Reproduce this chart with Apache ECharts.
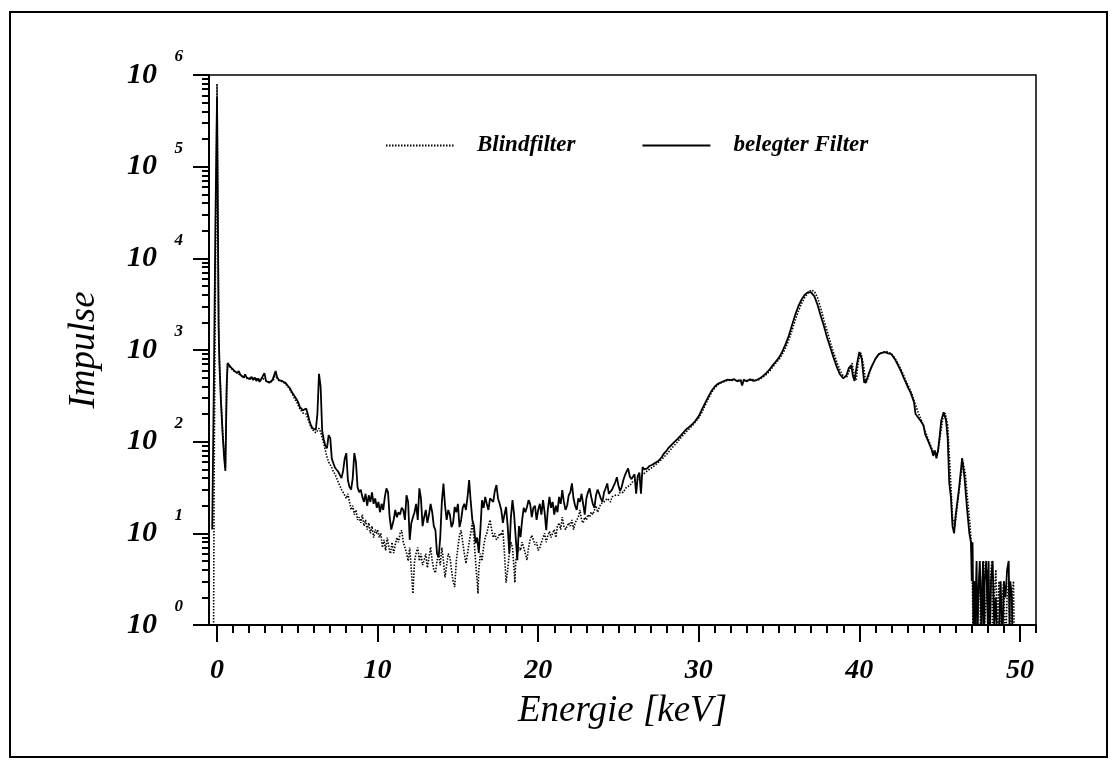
<!DOCTYPE html>
<html>
<head>
<meta charset="utf-8">
<title>Impulse / Energie</title>
<script src="https://cdn.jsdelivr.net/npm/echarts@6/dist/echarts.min.js"></script>
<style>
  html, body { margin: 0; padding: 0; background: #fff; }
  #wrap { position: relative; width: 1118px; height: 768px; }
  #chart { position: absolute; left: 0; top: 0; width: 1118px; height: 768px; }
  #frame { position: absolute; left: 9px; top: 11px; width: 1099px; height: 747px;
           border: 2px solid #000; box-sizing: border-box; pointer-events: none; }
</style>
</head>
<body>
<div id="wrap">
  <div id="chart"></div>
  <div id="frame"></div>
</div>
<script>
// Spectra as [energy in keV, counts] pairs.

// belegter Filter, low-energy part
const belegtLow = [
  [-0.3, 11], [-0.2, 400], [-0.1, 25000], [0, 570000], [0.1, 1700], [0.15, 700], [0.25, 260],
  [0.35, 120], [0.45, 65], [0.52, 48], [0.6, 400], [0.66, 720], [0.75, 690], [0.85, 650],
  [0.95, 630], [1.05, 600], [1.15, 580], [1.25, 560], [1.35, 590], [1.45, 540], [1.55, 520],
  [1.65, 500], [1.75, 540], [1.85, 500], [1.95, 520], [2.05, 480], [2.15, 510], [2.25, 470],
  [2.35, 500], [2.45, 460], [2.55, 490], [2.65, 450], [2.75, 480], [2.85, 520], [2.95, 560],
  [3.05, 460], [3.15, 470], [3.25, 440], [3.35, 460], [3.45, 470], [3.55, 480], [3.65, 590],
  [3.75, 500], [3.85, 470], [3.95, 480], [4.05, 460], [4.15, 450], [4.25, 440], [4.35, 420],
  [4.45, 400], [4.55, 380], [4.65, 350], [4.75, 330], [4.85, 310], [4.95, 290], [5.05, 270],
  [5.15, 240], [5.25, 250], [5.35, 220], [5.45, 210], [5.55, 230], [5.65, 200], [5.75, 170],
  [5.85, 150], [5.95, 140], [6.05, 140], [6.15, 135], [6.25, 200], [6.35, 550], [6.45, 400],
  [6.55, 130], [6.65, 105], [6.75, 90], [6.85, 85], [6.95, 118], [7.05, 110], [7.15, 65],
  [7.25, 58], [7.35, 52], [7.45, 50], [7.55, 47], [7.65, 45], [7.75, 40], [7.85, 48],
  [7.95, 65], [8.05, 75], [8.15, 38], [8.25, 32], [8.35, 30], [8.45, 40], [8.55, 75],
  [8.65, 60], [8.75, 32], [8.85, 28], [8.95, 30], [9.05, 25], [9.15, 22], [9.25, 27],
  [9.35, 20], [9.45, 26], [9.55, 22], [9.65, 28], [9.75, 21], [9.85, 24], [9.95, 19],
  [10.05, 22], [10.15, 17], [10.25, 21], [10.35, 18], [10.45, 25], [10.55, 31], [10.65, 28],
  [10.75, 15], [10.85, 11]
];

// belegter Filter, 10.9 – 29 keV
const belegtMid = [
  [10.9, 11], [11.0, 14], [11.1, 18], [11.2, 15], [11.3, 17], [11.4, 16], [11.5, 19],
  [11.6, 18], [11.7, 14], [11.8, 26], [11.9, 22], [12.0, 8.5], [12.1, 13], [12.2, 15],
  [12.3, 17], [12.4, 21], [12.5, 14], [12.6, 31], [12.7, 24], [12.8, 12], [12.9, 15],
  [13.0, 18], [13.1, 13], [13.2, 16], [13.3, 21], [13.4, 17], [13.5, 12], [13.6, 10.8],
  [13.7, 6], [13.8, 5.5], [13.9, 9], [14.0, 22], [14.1, 35], [14.2, 20], [14.3, 14],
  [14.4, 18], [14.5, 16], [14.6, 11.7], [14.7, 13], [14.8, 19.4], [14.9, 17], [15.0, 21],
  [15.1, 11.7], [15.2, 14], [15.3, 19], [15.4, 21], [15.5, 18], [15.6, 25], [15.7, 38],
  [15.8, 22], [15.9, 14], [16.0, 12], [16.1, 7.8], [16.2, 9], [16.3, 6.1], [16.4, 11],
  [16.5, 23], [16.6, 19], [16.7, 25], [16.8, 21], [16.9, 18], [17.0, 24], [17.1, 25],
  [17.2, 22], [17.3, 29], [17.4, 33.6], [17.5, 24], [17.6, 21], [17.7, 18], [17.8, 13],
  [17.9, 16], [18.0, 19.4], [18.1, 12], [18.2, 6.1], [18.3, 15], [18.4, 23], [18.5, 16],
  [18.6, 9], [18.7, 5.1], [18.8, 12], [18.9, 9.1], [19.0, 14], [19.1, 19], [19.2, 17],
  [19.3, 19.4], [19.4, 23], [19.5, 21], [19.6, 15], [19.7, 19], [19.8, 20], [19.9, 14],
  [20.0, 18], [20.1, 21], [20.2, 16], [20.3, 23], [20.4, 17], [20.5, 10.8], [20.6, 18],
  [20.7, 25], [20.8, 19], [20.9, 22], [21.0, 16], [21.1, 20], [21.2, 17], [21.3, 25],
  [21.4, 21], [21.5, 29.6], [21.6, 22], [21.7, 18], [21.8, 20], [21.9, 26], [22.0, 28],
  [22.1, 35], [22.2, 24], [22.3, 20], [22.4, 18], [22.5, 24], [22.6, 22], [22.7, 27],
  [22.8, 21], [22.9, 16], [23.0, 24], [23.1, 28], [23.2, 31], [23.3, 25], [23.4, 21],
  [23.5, 19], [23.6, 26], [23.7, 30], [23.8, 27], [23.9, 24], [24.0, 22], [24.1, 28],
  [24.2, 31], [24.3, 35], [24.4, 27], [24.5, 26], [24.6, 30], [24.7, 33], [24.8, 36],
  [24.9, 41], [25.0, 33], [25.1, 29], [25.2, 32], [25.3, 38], [25.4, 43], [25.5, 47],
  [25.6, 51], [25.7, 42], [25.8, 39], [25.9, 40], [26.0, 44], [26.1, 27], [26.2, 42],
  [26.3, 46], [26.4, 27], [26.5, 53], [26.6, 50], [26.7, 48], [26.8, 51], [26.9, 54],
  [27.0, 52], [27.1, 56], [27.2, 55], [27.3, 59], [27.4, 58], [27.5, 62], [27.6, 65],
  [27.7, 68], [27.8, 73], [27.9, 75], [28.0, 80], [28.1, 85], [28.2, 88], [28.3, 92],
  [28.4, 95], [28.5, 100], [28.6, 104], [28.7, 108], [28.8, 112], [28.9, 118], [29.0, 124]
];

// belegter Filter, 29 – 50 keV
const belegtHigh = [
  [29.2, 135], [29.4, 145], [29.6, 155], [29.8, 170], [30.0, 190], [30.2, 225], [30.4, 265],
  [30.6, 310], [30.8, 360], [31.0, 400], [31.2, 430], [31.4, 445], [31.6, 460], [31.8, 475],
  [32.0, 470], [32.2, 480], [32.4, 455], [32.6, 470], [32.7, 410], [32.8, 470], [33.0, 455],
  [33.2, 480], [33.4, 460], [33.6, 470], [33.8, 490], [34.0, 520], [34.2, 560], [34.4, 610],
  [34.6, 680], [34.8, 750], [35.0, 830], [35.2, 960], [35.4, 1150], [35.6, 1420], [35.8, 1850],
  [36.0, 2400], [36.2, 3000], [36.4, 3550], [36.6, 4000], [36.8, 4280], [37.0, 4250],
  [37.2, 3850], [37.4, 3100], [37.6, 2350], [37.8, 1800], [38.0, 1350], [38.2, 1050],
  [38.4, 820], [38.6, 650], [38.8, 540], [39.0, 490], [39.2, 530], [39.35, 640], [39.5, 680],
  [39.6, 520], [39.7, 460], [39.85, 700], [40.0, 950], [40.15, 800], [40.3, 440], [40.45, 470],
  [40.6, 560], [40.8, 680], [41.0, 800], [41.2, 900], [41.4, 930], [41.6, 950], [41.8, 920],
  [42.0, 900], [42.2, 800], [42.4, 690], [42.6, 580], [42.8, 480], [43.0, 400], [43.2, 340],
  [43.4, 270], [43.5, 200], [43.6, 210], [43.8, 170], [44.0, 150], [44.1, 120], [44.3, 100],
  [44.5, 82], [44.6, 70], [44.7, 80], [44.8, 66], [44.9, 80], [45.0, 115], [45.1, 170],
  [45.25, 210], [45.4, 170], [45.5, 110], [45.6, 35], [45.7, 25], [45.8, 12], [45.9, 10],
  [46.0, 16], [46.2, 30], [46.4, 66], [46.55, 40], [46.7, 19], [46.85, 10], [46.95, 8],
  [47.0, 3], [47.05, 8], [47.1, 1], [47.15, 3], [47.2, 1], [47.3, 5], [47.35, 0.5],
  [47.4, 2], [47.5, 5], [47.6, 1], [47.7, 5], [47.75, 0.5], [47.8, 3], [47.9, 5], [48.0, 1],
  [48.05, 5], [48.1, 0.5], [48.2, 3], [48.3, 5], [48.4, 1], [48.5, 2], [48.6, 0.5], [48.7, 1],
  [48.8, 3], [48.9, 0.5], [49.0, 3], [49.1, 2], [49.2, 4], [49.3, 5], [49.35, 1], [49.4, 3],
  [49.5, 2], [49.55, 0.5]
];

// Blindfilter, low-energy part
const blindLow = [
  [-0.22, 0.5], [-0.18, 40], [-0.1, 6000], [0, 800000], [0.1, 2200], [0.15, 800], [0.25, 280],
  [0.35, 130], [0.45, 70], [0.52, 52], [0.6, 380], [0.66, 700], [0.75, 690], [0.85, 640],
  [0.95, 620], [1.05, 590], [1.15, 570], [1.25, 565], [1.35, 545], [1.45, 530], [1.55, 540],
  [1.65, 510], [1.75, 520], [1.85, 490], [1.95, 505], [2.05, 495], [2.15, 480], [2.25, 490],
  [2.35, 470], [2.45, 485], [2.55, 465], [2.65, 475], [2.75, 470], [2.85, 500], [2.95, 470],
  [3.05, 460], [3.15, 455], [3.25, 450], [3.35, 445], [3.45, 460], [3.55, 480], [3.65, 560],
  [3.75, 490], [3.85, 465], [3.95, 470], [4.05, 450], [4.15, 440], [4.25, 430], [4.35, 410],
  [4.45, 390], [4.55, 365], [4.65, 340], [4.75, 315], [4.85, 290], [4.95, 275], [5.05, 250],
  [5.15, 230], [5.25, 225], [5.35, 205], [5.45, 195], [5.55, 200], [5.65, 180], [5.75, 160],
  [5.85, 145], [5.95, 135], [6.05, 130], [6.15, 125], [6.25, 132], [6.35, 140], [6.45, 128],
  [6.55, 110], [6.65, 95], [6.75, 80], [6.85, 68], [6.95, 60], [7.05, 62], [7.15, 52],
  [7.25, 47], [7.35, 44], [7.45, 40], [7.55, 36], [7.65, 33], [7.75, 30], [7.85, 28],
  [7.95, 26], [8.05, 24], [8.15, 27], [8.25, 22], [8.35, 18], [8.45, 20], [8.55, 16],
  [8.65, 18], [8.75, 14], [8.85, 15], [8.95, 13], [9.05, 16], [9.15, 12], [9.25, 14],
  [9.35, 11], [9.45, 13], [9.55, 10], [9.65, 12], [9.75, 9], [9.85, 11], [9.95, 10]
];

// Blindfilter, 10 – 31 keV
const blindMid = [
  [10.0, 11], [10.1, 9], [10.2, 10], [10.3, 7], [10.4, 8.5], [10.5, 6.5], [10.6, 9], [10.7, 7],
  [10.8, 6], [10.9, 8], [11.0, 6.1], [11.1, 7.5], [11.2, 9], [11.3, 8], [11.4, 10], [11.5, 10.8],
  [11.6, 8], [11.7, 7], [11.8, 6.1], [11.9, 5], [12.0, 7], [12.1, 4], [12.2, 2.2], [12.3, 5],
  [12.4, 6.1], [12.5, 7], [12.6, 5], [12.7, 6], [12.8, 4.5], [12.9, 5.1], [13.0, 6], [13.1, 4.2],
  [13.2, 5.5], [13.3, 7.1], [13.4, 5], [13.5, 4], [13.6, 3.7], [13.7, 5], [13.8, 6], [13.9, 4.5],
  [14.0, 7], [14.1, 5], [14.2, 3.3], [14.3, 4.5], [14.4, 6], [14.5, 5.5], [14.6, 4], [14.7, 3],
  [14.8, 2.6], [14.9, 5], [15.0, 7], [15.1, 9.5], [15.2, 10.8], [15.3, 8], [15.4, 6], [15.5, 4.7],
  [15.6, 6], [15.7, 8], [15.8, 10], [15.9, 13], [16.0, 9], [16.1, 5], [16.2, 3], [16.25, 2.2],
  [16.3, 4], [16.4, 6], [16.5, 5], [16.6, 7.1], [16.7, 9], [16.8, 10], [16.9, 12], [17.0, 14],
  [17.1, 11], [17.2, 9], [17.3, 10], [17.4, 8.5], [17.5, 9], [17.6, 10], [17.7, 9.5], [17.8, 11],
  [17.9, 6], [18.0, 2.9], [18.1, 4], [18.2, 6], [18.3, 8], [18.4, 7], [18.5, 4], [18.55, 2.9],
  [18.6, 5], [18.7, 6], [18.8, 7], [18.9, 6.5], [19.0, 8], [19.1, 7], [19.2, 6], [19.3, 5.1],
  [19.4, 7], [19.5, 8.5], [19.6, 9.5], [19.7, 9.1], [19.8, 7.5], [19.9, 8], [20.0, 6.5], [20.1, 7],
  [20.2, 8], [20.3, 9], [20.4, 10], [20.5, 8], [20.6, 9.5], [20.7, 10.5], [20.8, 9], [20.9, 10],
  [21.0, 11], [21.1, 9], [21.2, 12], [21.3, 13], [21.4, 11], [21.5, 15], [21.6, 12], [21.7, 11],
  [21.8, 10.8], [21.9, 13], [22.0, 12], [22.1, 14], [22.2, 11], [22.3, 13], [22.4, 14], [22.5, 15],
  [22.6, 18], [22.7, 14], [22.8, 13], [22.9, 15], [23.0, 14], [23.1, 16], [23.2, 15], [23.3, 17],
  [23.4, 16], [23.5, 18], [23.6, 20], [23.7, 17], [23.8, 19], [23.9, 21], [24.0, 20], [24.1, 22],
  [24.2, 21], [24.3, 24], [24.4, 23], [24.5, 22], [24.6, 25], [24.7, 24], [24.8, 26], [24.9, 27],
  [25.0, 26], [25.1, 28], [25.2, 29], [25.3, 28], [25.4, 30], [25.5, 32], [25.6, 31], [25.7, 33],
  [25.8, 35], [25.9, 37], [26.0, 36], [26.2, 39], [26.4, 42], [26.6, 45], [26.8, 48], [27.0, 51],
  [27.2, 54], [27.4, 58], [27.6, 62], [27.8, 67], [28.0, 73], [28.2, 80], [28.4, 88], [28.6, 96],
  [28.8, 106], [29.0, 116], [29.2, 127], [29.4, 138], [29.6, 150], [29.8, 165], [30.0, 182],
  [30.2, 210], [30.4, 250], [30.6, 295], [30.8, 345], [31.0, 385]
];

// Blindfilter, 31 – 50 keV
const blindHigh = [
  [31.2, 420], [31.4, 440], [31.6, 455], [31.8, 465], [32.0, 470], [32.2, 465], [32.4, 470],
  [32.6, 460], [32.8, 475], [33.0, 465], [33.2, 470], [33.4, 475], [33.6, 465], [33.8, 480],
  [34.0, 505], [34.2, 540], [34.4, 585], [34.6, 650], [34.8, 720], [35.0, 790], [35.2, 900],
  [35.4, 1050], [35.6, 1280], [35.8, 1620], [36.0, 2100], [36.2, 2650], [36.4, 3200],
  [36.6, 3750], [36.8, 4200], [37.0, 4500], [37.2, 4350], [37.4, 3700], [37.6, 2850],
  [37.8, 2100], [38.0, 1600], [38.2, 1200], [38.4, 930], [38.6, 730], [38.8, 600], [39.0, 520],
  [39.2, 500], [39.35, 580], [39.55, 720], [39.7, 500], [39.8, 470], [39.95, 780], [40.1, 930],
  [40.25, 700], [40.4, 430], [40.55, 500], [40.7, 620], [40.9, 740], [41.1, 850], [41.3, 920],
  [41.5, 950], [41.7, 960], [41.9, 930], [42.1, 870], [42.3, 770], [42.5, 660], [42.7, 560],
  [42.9, 460], [43.1, 390], [43.3, 320], [43.5, 250], [43.7, 200], [43.9, 165], [44.1, 130],
  [44.3, 105], [44.5, 85], [44.7, 72], [44.9, 78], [45.05, 120], [45.2, 180], [45.35, 205],
  [45.5, 150], [45.65, 50], [45.8, 15], [45.95, 12], [46.1, 20], [46.3, 40], [46.45, 60],
  [46.6, 45], [46.75, 22], [46.9, 12], [47.0, 6], [47.05, 2], [47.1, 0.5], [47.2, 3],
  [47.3, 0.5], [47.4, 2], [47.5, 4], [47.55, 0.5], [47.65, 3], [47.75, 5], [47.8, 1],
  [47.9, 2], [48.0, 4], [48.05, 0.5], [48.15, 3], [48.25, 5], [48.3, 0.5], [48.4, 2],
  [48.5, 4], [48.6, 1], [48.7, 3], [48.8, 0.5], [48.9, 2], [49.0, 3], [49.1, 0.5], [49.2, 2],
  [49.3, 3], [49.4, 0.5], [49.5, 2], [49.6, 3], [49.65, 0.5]
];

// Axis ticks and labels
const energyMajor = [0, 10, 20, 30, 40, 50];
const energyMinor = [1, 2, 3, 4, 5, 6, 7, 8, 9, 11, 12, 13, 14, 15, 16, 17, 18, 19,
  21, 22, 23, 24, 25, 26, 27, 28, 29, 31, 32, 33, 34, 35, 36, 37, 38, 39,
  41, 42, 43, 44, 45, 46, 47, 48, 49, 51];
const decades = [1, 10, 100, 1000, 10000, 100000, 1000000];
const decadeMinor = [];
for (let d = 0; d < decades.length - 1; d++) {
  for (let m = 2; m <= 9; m++) decadeMinor.push(m * decades[d]);
}

const serif = '"Liberation Serif", "DejaVu Serif", serif';
const xMin = -0.5, xMax = 51, yMin = 1, yMax = 1000000;

const chart = echarts.init(document.getElementById('chart'), null, { renderer: 'canvas' });

chart.setOption({
  animation: false,
  backgroundColor: '#fff',
  grid: { left: 209, right: 82, top: 75, bottom: 143, show: true, borderColor: '#000', borderWidth: 1.5, backgroundColor: 'transparent' },
  legend: {
    left: 380, top: 129, itemWidth: 68, itemHeight: 12, itemGap: 66,
    data: ['Blindfilter', 'belegter Filter'],
    itemStyle: { opacity: 0 },
    textStyle: { fontFamily: serif, fontStyle: 'italic', fontWeight: 'bold', fontSize: 23, color: '#000', padding: [0, 0, 0, 18] }
  },
  xAxis: [
    {
      type: 'value', min: xMin, max: xMax, position: 'bottom',
      name: 'Energie [keV]', nameLocation: 'middle', nameGap: 68,
      nameTextStyle: { fontFamily: serif, fontStyle: 'italic', fontSize: 37, color: '#000' },
      axisLine: { show: true, onZero: false, lineStyle: { color: '#000', width: 2 } },
      axisTick: { show: true, length: 17, customValues: energyMajor, lineStyle: { color: '#000', width: 2 } },
      axisLabel: { customValues: energyMajor, margin: 32, fontFamily: serif, fontStyle: 'italic', fontWeight: 'bold', fontSize: 28, color: '#000' },
      splitLine: { show: false }
    },
    {
      type: 'value', min: xMin, max: xMax, position: 'bottom',
      axisLine: { show: false, onZero: false },
      axisTick: { show: true, length: 8, customValues: energyMinor, lineStyle: { color: '#000', width: 2 } },
      axisLabel: { show: false },
      splitLine: { show: false }
    }
  ],
  yAxis: [
    {
      type: 'log', logBase: 10, min: yMin, max: yMax, position: 'left',
      name: 'Impulse', nameLocation: 'middle', nameGap: 106,
      nameTextStyle: { fontFamily: serif, fontStyle: 'italic', fontSize: 37, color: '#000' },
      axisLine: { show: true, onZero: false, lineStyle: { color: '#000', width: 2 } },
      axisTick: { show: true, length: 16, customValues: decades, lineStyle: { color: '#000', width: 2 } },
      axisLabel: { customValues: decades, margin: 52, formatter: () => '10', fontFamily: serif, fontStyle: 'italic', fontWeight: 'bold', fontSize: 30, color: '#000' },
      splitLine: { show: false }
    },
    {
      type: 'log', logBase: 10, min: yMin, max: yMax, position: 'left',
      axisLine: { show: false, onZero: false },
      axisTick: { show: true, length: 7, customValues: decadeMinor, lineStyle: { color: '#000', width: 2 } },
      axisLabel: {
        customValues: decades, margin: 26,
        formatter: (v) => String(Math.round(Math.log10(v))),
        fontFamily: serif, fontStyle: 'italic', fontWeight: 'bold', fontSize: 17, color: '#000',
        verticalAlign: 'bottom', lineHeight: 36
      },
      splitLine: { show: false }
    }
  ],
  series: [
    {
      name: 'Blindfilter', type: 'line', xAxisIndex: 0, yAxisIndex: 0,
      data: blindLow.concat(blindMid, blindHigh),
      symbol: 'none', clip: true,
      lineStyle: { color: '#000', width: 1.6, type: [1.5, 1.5] },
      itemStyle: { color: '#000' }
    },
    {
      name: 'belegter Filter', type: 'line', xAxisIndex: 0, yAxisIndex: 0,
      data: belegtLow.concat(belegtMid, belegtHigh),
      symbol: 'none', clip: true,
      lineStyle: { color: '#000', width: 1.8, type: 'solid' },
      itemStyle: { color: '#000' }
    }
  ]
});
</script>
</body>
</html>
